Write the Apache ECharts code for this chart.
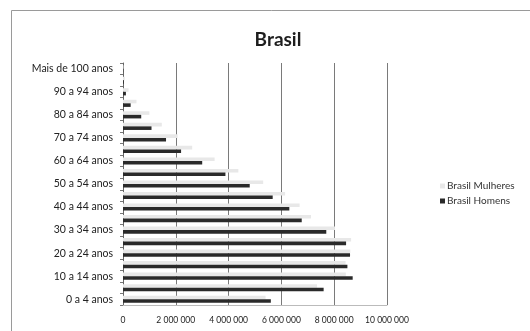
<!DOCTYPE html>
<html>
<head>
<meta charset="utf-8">
<script src="https://cdn.jsdelivr.net/npm/echarts@6/dist/echarts.min.js"></script>
<style>
  html, body { margin: 0; padding: 0; background: #fff; }
  #chart { width: 530px; height: 331px; }
</style>
</head>
<body>
<div id="chart"></div>
<script>
const categories = [
  "0 a 4 anos", "5 a 9 anos", "10 a 14 anos", "15 a 19 anos", "20 a 24 anos",
  "25 a 29 anos", "30 a 34 anos", "35 a 39 anos", "40 a 44 anos", "45 a 49 anos",
  "50 a 54 anos", "55 a 59 anos", "60 a 64 anos", "65 a 69 anos", "70 a 74 anos",
  "75 a 79 anos", "80 a 84 anos", "85 a 89 anos", "90 a 94 anos", "95 a 99 anos",
  "Mais de 100 anos"
];
const mulheres = [
  5400000, 7350000, 8440000, 8430000, 8610000,
  8640000, 8030000, 7120000, 6690000, 6140000,
  5310000, 4370000, 3470000, 2620000, 2070000,
  1470000, 1000000, 510000, 210000, 67000,
  17000
];
const homens = [
  5600000, 7600000, 8700000, 8500000, 8600000,
  8450000, 7700000, 6770000, 6300000, 5670000,
  4800000, 3880000, 3000000, 2200000, 1630000,
  1080000, 690000, 290000, 110000, 30000,
  7000
];
const seriesNames = ["Brasil Mulheres", "Brasil Homens"];
const xMax = 10000000;
const xStep = 2000000;

function fmt(v) {
  return String(v).replace(/\B(?=(\d{3})+(?!\d))/g, " ");
}

const chart = echarts.init(document.getElementById("chart"), null, { renderer: "canvas" });
chart.setOption({
  animation: false,
  backgroundColor: "#ffffff",
  textStyle: { fontFamily: "Lato" },
  graphic: [{
    type: "rect",
    shape: { x: 11.5, y: 10.5, width: 600, height: 400 },
    style: { fill: "none", stroke: "#9a9a9a", lineWidth: 1 },
    silent: true
  }],
  title: {
    text: "Brasil",
    left: 273,
    top: 25,
    textAlign: "center",
    textStyle: { fontFamily: "Lato", fontWeight: "bold", fontSize: 19, color: "#1e1e1e" }
  },
  legend: {
    orient: "vertical",
    left: 435,
    top: 176,
    itemWidth: 5,
    itemHeight: 5,
    itemGap: 5,
    icon: "rect",
    textStyle: { fontFamily: "Lato", fontSize: 10, color: "#333", padding: [0, 0, 0, -3] },
    data: seriesNames
  },
  grid: { left: 123, right: 143, top: 63, bottom: 26, containLabel: false },
  xAxis: {
    type: "value",
    min: 0,
    max: xMax,
    interval: xStep,
    axisLine: { show: true, lineStyle: { color: "#bbb" } },
    axisTick: { show: false },
    splitLine: { show: true, lineStyle: { color: "#7a7a7a", width: 1 } },
    axisLabel: {
      margin: 11,
      fontSize: 8.5,
      color: "#222",
      fontFamily: "Lato",
      formatter: v => fmt(v)
    }
  },
  yAxis: {
    type: "category",
    data: categories,
    axisLine: { show: true, lineStyle: { color: "#666" } },
    axisTick: { show: true, length: 3, interval: 0, lineStyle: { color: "#777" } },
    axisLabel: { interval: 1, margin: 10, fontSize: 10.5, color: "#222", fontFamily: "Lato" }
  },
  series: [
    {
      name: seriesNames[0],
      type: "bar",
      data: mulheres,
      barGap: "0%",
      barCategoryGap: "38%",
      itemStyle: { color: "#e8e8e8" }
    },
    {
      name: seriesNames[1],
      type: "bar",
      data: homens,
      barGap: "0%",
      barCategoryGap: "38%",
      itemStyle: { color: "#2a2a2a" }
    }
  ]
});
</script>
</body>
</html>
